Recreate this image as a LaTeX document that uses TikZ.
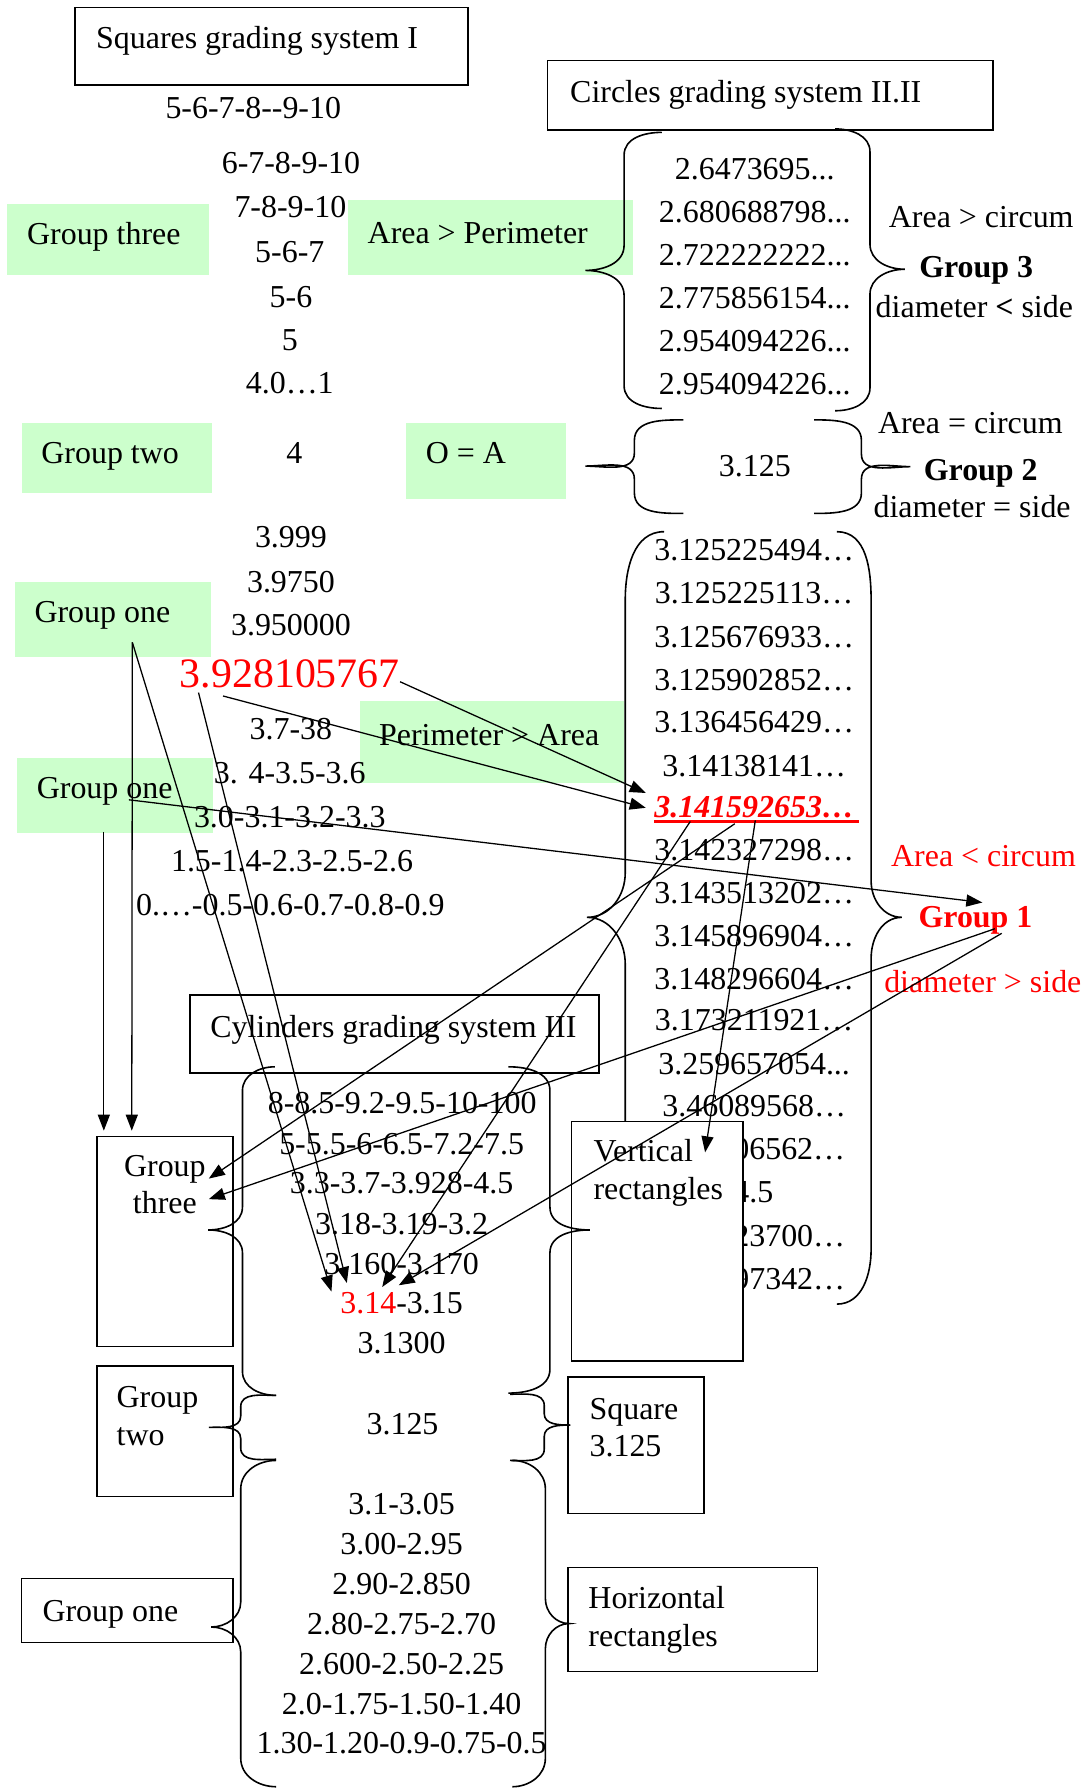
\documentclass[tikz,border=0pt]{standalone}
\usepackage{fontspec}
\setmainfont{Liberation Serif}
\usetikzlibrary{arrows.meta}
\definecolor{lgreen}{RGB}{204,255,204}

\begin{document}
\begin{tikzpicture}[x=0.025cm,y=-0.025cm,>={Triangle[length=10pt,width=7.5pt]},
  font=\fontsize{19.9}{23.4}\selectfont,
  lbl/.style={inner sep=0pt,text height=0.68em,text depth=0pt,yshift=-3.2pt},
  lines/.style={inner sep=0pt,align=left,anchor=north west},
  grn/.style={fill=lgreen},
  box/.style={line width=1pt},
  brc/.style={line width=1pt},
  con/.style={line width=0.8pt,->}]
\path[use as bounding box] (0,0) rectangle (953,1568);

%% green fields
\fill[grn] (6,179) rectangle (183,241);
\fill[grn] (305,175) rectangle (555,241);
\fill[grn] (19,371) rectangle (185.5,432);
\fill[grn] (356,371) rectangle (496,437.5);
\fill[grn] (13.5,510) rectangle (184.5,575.5);
\fill[grn] (315.5,614.5) rectangle (547,686.5);
\fill[grn] (15,664) rectangle (187,730);
\node[lbl,anchor=west] (gthreeA) at (23.5,205) {Group three};
\node[lbl,anchor=west] (apA) at (322,204) {Area > Perimeter};
\node[lbl,anchor=west] (gtwoA) at (36,397) {Group two};
\node[lbl,anchor=west] (oeqa) at (373,397) {O = A};
\node[lbl,anchor=west] (goneA) at (30,536) {Group one};
\node[lbl,anchor=west] (paA) at (332,644) {Perimeter > Area};
\node[lbl,anchor=west] (goneB) at (32,691) {Group one};

%% squares
\draw[box] (65.5,6.5) rectangle (410,74.5);
\node[lbl,anchor=west] (sqtitle) at (84,33) {Squares grading system I};
\node[lbl] (s1) at (222,95) {5-6-7-8-{}-9-10};
\node[lbl] (s2) at (255,143) {6-7-8-9-10};
\node[lbl] (s3) at (254.5,181) {7-8-9-10};
\node[lbl] (s4) at (254,221) {5-6-7};
\node[lbl] (s5) at (255,260) {5-6};
\node[lbl] (s6) at (254,298) {5};
\node[lbl] (s7) at (254,336) {4.0…1};
\node[lbl] (s8) at (258,397) {4};
\node[lbl] (s9) at (255,470.5) {3.999};
\node[lbl] (s10) at (255,510) {3.9750};
\node[lbl] (s11) at (255,548) {3.950000};
\node[lbl,red,font=\fontsize{26.1}{30}\selectfont] (red39) at (254,593) {3.928105767};
\node[lbl] (s12) at (255,638.5) {3.7-38};
\node[lbl] (s13) at (254,677.5) {3. 4-3.5-3.6};
\node[lbl] (s14) at (254,716) {3.0-3.1-3.2-3.3};
\node[lbl] (s15) at (256,754.5) {1.5-1.4-2.3-2.5-2.6};
\node[lbl] (s16) at (254.5,793) {0.…-0.5-0.6-0.7-0.8-0.9};

%% circles
\draw[box] (480,53) rectangle (870.5,114);
\node[lbl,anchor=west] (ctitle) at (499.5,80.5) {Circles grading system II.II};
\node[lbl] (c1) at (661.5,148) {2.6473695...};
\node[lbl] (c2) at (661.5,185.7) {2.680688798...};
\node[lbl] (c3) at (661.5,223.4) {2.722222222...};
\node[lbl] (c4) at (661.5,261) {2.775856154...};
\node[lbl] (c5) at (661.5,298.8) {2.954094226...};
\node[lbl] (c6) at (661.5,336.5) {2.954094226...};
\node[lbl] (cth1) at (860,190) {Area > circum};
\node[lbl] (cth2) at (855.6,234) {\bfseries Group 3};
\node[lbl] (cth3) at (854,269) {diameter \textbf{<} side};
\node[lbl] (ctw0) at (661.6,408) {3.125};
\node[lbl] (ctw1) at (850.5,371) {Area = circum};
\node[lbl] (ctw2) at (859.6,412) {\bfseries Group 2};
\node[lbl] (ctw3) at (852,444) {diameter = side};
\node[lbl] (c7) at (661,482) {3.125225494…};
\node[lbl] (c8) at (661,520) {3.125225113…};
\node[lbl] (c9) at (661,558) {3.125676933…};
\node[lbl] (c10) at (661,596) {3.125902852…};
\node[lbl] (c11) at (661,633) {3.136456429…};
\node[lbl] (c12) at (661,671) {3.14138141…};
\node[lbl,red] (pi) at (661,707) {\bfseries\itshape 3.141592653…};
\node[lbl] (c13) at (661,745) {3.142327298…};
\node[lbl] (c14) at (661,783) {3.143513202…};
\node[lbl] (c15) at (661,820) {3.145896904…};
\node[lbl] (c16) at (661,857.7) {3.148296604…};
\node[lbl] (c17) at (661,894.3) {3.173211921…};
\node[lbl] (c18) at (661,932.3) {3.259657054...};
\node[lbl] (c19) at (661,969) {3.46089568…};
\node[lbl,anchor=east] (c20) at (741,1007) {06562…};
\node[lbl,anchor=east] (c21) at (678,1045) {4.5};
\node[lbl,anchor=east] (c22) at (741,1083) {23700…};
\node[lbl,anchor=east] (c23) at (741,1121) {97342…};
\node[lbl,red] (con1) at (862,750) {Area < circum};
\node[lbl,red] (con2) at (855,804) {\bfseries Group 1};
\node[lbl,red] (con3) at (861.4,861) {diameter > side};
\draw[red,line width=2pt] ([yshift=-2.5pt]pi.south west) -- ([yshift=-2.5pt,xshift=3pt]pi.south east);

%% braces round the circles
\draw[brc] (580,116) to[out=180,in=90] (547,136) -- (547,215) to[out=-90,in=0] (513,237) to[out=0,in=90] (547,259) -- (547,338) to[out=-90,in=180] (580,358);
\draw[brc] (732,113) to[out=0,in=90] (762.5,133) -- (762.5,214) to[out=-90,in=180] (793,236) to[out=180,in=90] (762.5,258) -- (762.5,340) to[out=-90,in=0] (732,360);
\draw[brc] (599,368) to[out=180,in=90] (556,386) -- (556,397) to[out=-90,in=0] (513,408.5) to[out=0,in=90] (556,420) -- (556,432) to[out=-90,in=180] (599,450);
\draw[brc] (713.6,368) to[out=0,in=90] (755,386) -- (755,398) to[out=-90,in=180] (798,409) to[out=180,in=90] (755,420) -- (755,432) to[out=-90,in=0] (713.6,450);
\draw[brc] (582,466) to[out=180,in=90] (548,526) -- (548,765) to[out=-90,in=0] (514.5,804) to[out=0,in=90] (548,845) -- (548,1093) to[out=-90,in=180] (582,1143);
\draw[brc] (733.5,466) to[out=0,in=90] (763.5,526) -- (763.5,772) to[out=-90,in=180] (790.5,804) to[out=180,in=90] (763.5,840) -- (763.5,1095) to[out=-90,in=0] (733.5,1143);

%% cylinders
\draw[box] (166.5,872) rectangle (525,940.5);
\node[lbl,anchor=west] (cytitle) at (184,900) {Cylinders grading system III};
\node[lbl] (cy1) at (352.5,967) {8-8.5-9.2-9.5-10-100};
\node[lbl] (cy2) at (352,1002.5) {5-5.5-6-6.5-7.2-7.5};
\node[lbl] (cy3) at (352,1037) {3.3-3.7-3.928-4.5};
\node[lbl] (cy4) at (352,1072.5) {3.18-3.19-3.2};
\node[lbl] (cy5) at (352,1107.5) {3.160-3.170};
\node[lbl] (cy6) at (352,1142) {{\color{red}3.14}-3.15};
\node[lbl] (cy7) at (352,1177) {3.1300};
\node[lbl] (cy8) at (352.8,1248) {3.125};
\node[lbl] (cy9) at (352,1318) {3.1-3.05};
\node[lbl] (cy10) at (352,1353) {3.00-2.95};
\node[lbl] (cy11) at (352,1388) {2.90-2.850};
\node[lbl] (cy12) at (352,1423) {2.80-2.75-2.70};
\node[lbl] (cy13) at (352,1458) {2.600-2.50-2.25};
\node[lbl] (cy14) at (352,1493) {2.0-1.75-1.50-1.40};
\node[lbl] (cy15) at (352,1528) {1.30-1.20-0.9-0.75-0.5};

%% boxes
\draw[box] (85,996) rectangle (204,1180);
\node[lines,anchor=north,align=center] (bthree) at (144.5,1012) {Group\\three};
\draw[box] (85,1197.5) rectangle (204,1311.5);
\node[lines] (btwo) at (102,1215) {Group\\two};
\draw[box] (19,1383.5) rectangle (204,1439.5);
\node[lbl,anchor=west] (bone) at (37,1411.5) {Group one};
\draw[box,fill=white] (501,983) rectangle (651,1193);
\node[lines] (bvert) at (520,998.5) {Vertical\\rectangles};
\draw[box] (498,1207) rectangle (617,1326.5);
\node[lines] (bsq) at (516.5,1225) {Square\\3.125};
\draw[box] (498,1374) rectangle (716.5,1465);
\node[lines] (bhor) at (515.5,1390.5) {Horizontal\\rectangles};

%% braces round the cylinders
\draw[brc] (241,935) to[out=180,in=90] (212.5,956) -- (212.5,1058) to[out=-90,in=0] (182.5,1078) to[out=0,in=90] (212.5,1098) -- (212.5,1202) to[out=-90,in=180] (242,1223);
\draw[brc] (445.5,935) to[out=0,in=90] (482,956) -- (482,1058) to[out=-90,in=180] (517,1078) to[out=180,in=90] (482,1098) -- (482,1200) to[out=-90,in=0] (445.5,1221);
\draw[brc] (242,1223) to[out=180,in=90] (211,1233) -- (211,1241) to[out=-90,in=0] (183,1251) to[out=0,in=90] (211,1261) -- (211,1269) to[out=-90,in=180] (242,1279);
\draw[brc] (447,1222) to[out=0,in=90] (477,1232) -- (477,1239) to[out=-90,in=180] (500,1249) to[out=180,in=90] (477,1259) -- (477,1270) to[out=-90,in=0] (447,1280);
\draw[brc] (242,1280) to[out=180,in=90] (211,1305) -- (211,1404) to[out=-90,in=0] (185,1426) to[out=0,in=90] (211,1448) -- (211,1541) to[out=-90,in=180] (242,1566);
\draw[brc] (449,1280) to[out=0,in=90] (478,1305) -- (478,1401) to[out=-90,in=180] (499,1423) to[out=180,in=90] (478,1445) -- (478,1541) to[out=-90,in=0] (449,1566);

%% arrows
\coordinate (gA) at (116,563);
\coordinate (gB) at (91,729);
\coordinate (gC) at (113,701);
\coordinate (rA) at (174,607);
\coordinate (rB) at (195.5,610);
\coordinate (piA) at (566,695);
\coordinate (piB) at (566,708);
\coordinate (piC) at (605,720);
\coordinate (piD) at (644,722);
\coordinate (piE) at (662,719);
\coordinate (gOneA) at (872,814);
\coordinate (gOneB) at (878,818);
\coordinate (gOneC) at (861,791);
\coordinate (boxA) at (91,991);
\coordinate (boxB) at (115.5,991);
\coordinate (boxC) at (183,1033);
\coordinate (boxD) at (183,1051);
\coordinate (tA) at (290.5,1132);
\coordinate (tB) at (304,1124.5);
\coordinate (tC) at (335,1128);
\coordinate (tD) at (349.5,1126.5);
\coordinate (vert) at (618,1010);
\draw[con] (gB) -- (boxA);
\draw[con] (gA) -- (boxB);
\draw[con] (gA) -- (tA);
\draw[con] (rA) -- (tB);
\draw[con] (red39.east) -- (piA);
\draw[con] (rB) -- (piB);
\draw[con] (gC) -- (gOneC);
\draw[con] (piC) -- (tC);
\draw[con] (piD) -- (boxC);
\draw[con] (piE) -- (vert);
\draw[con] (gOneA) -- (boxD);
\draw[con] (gOneB) -- (tD);
\end{tikzpicture}
\end{document}
